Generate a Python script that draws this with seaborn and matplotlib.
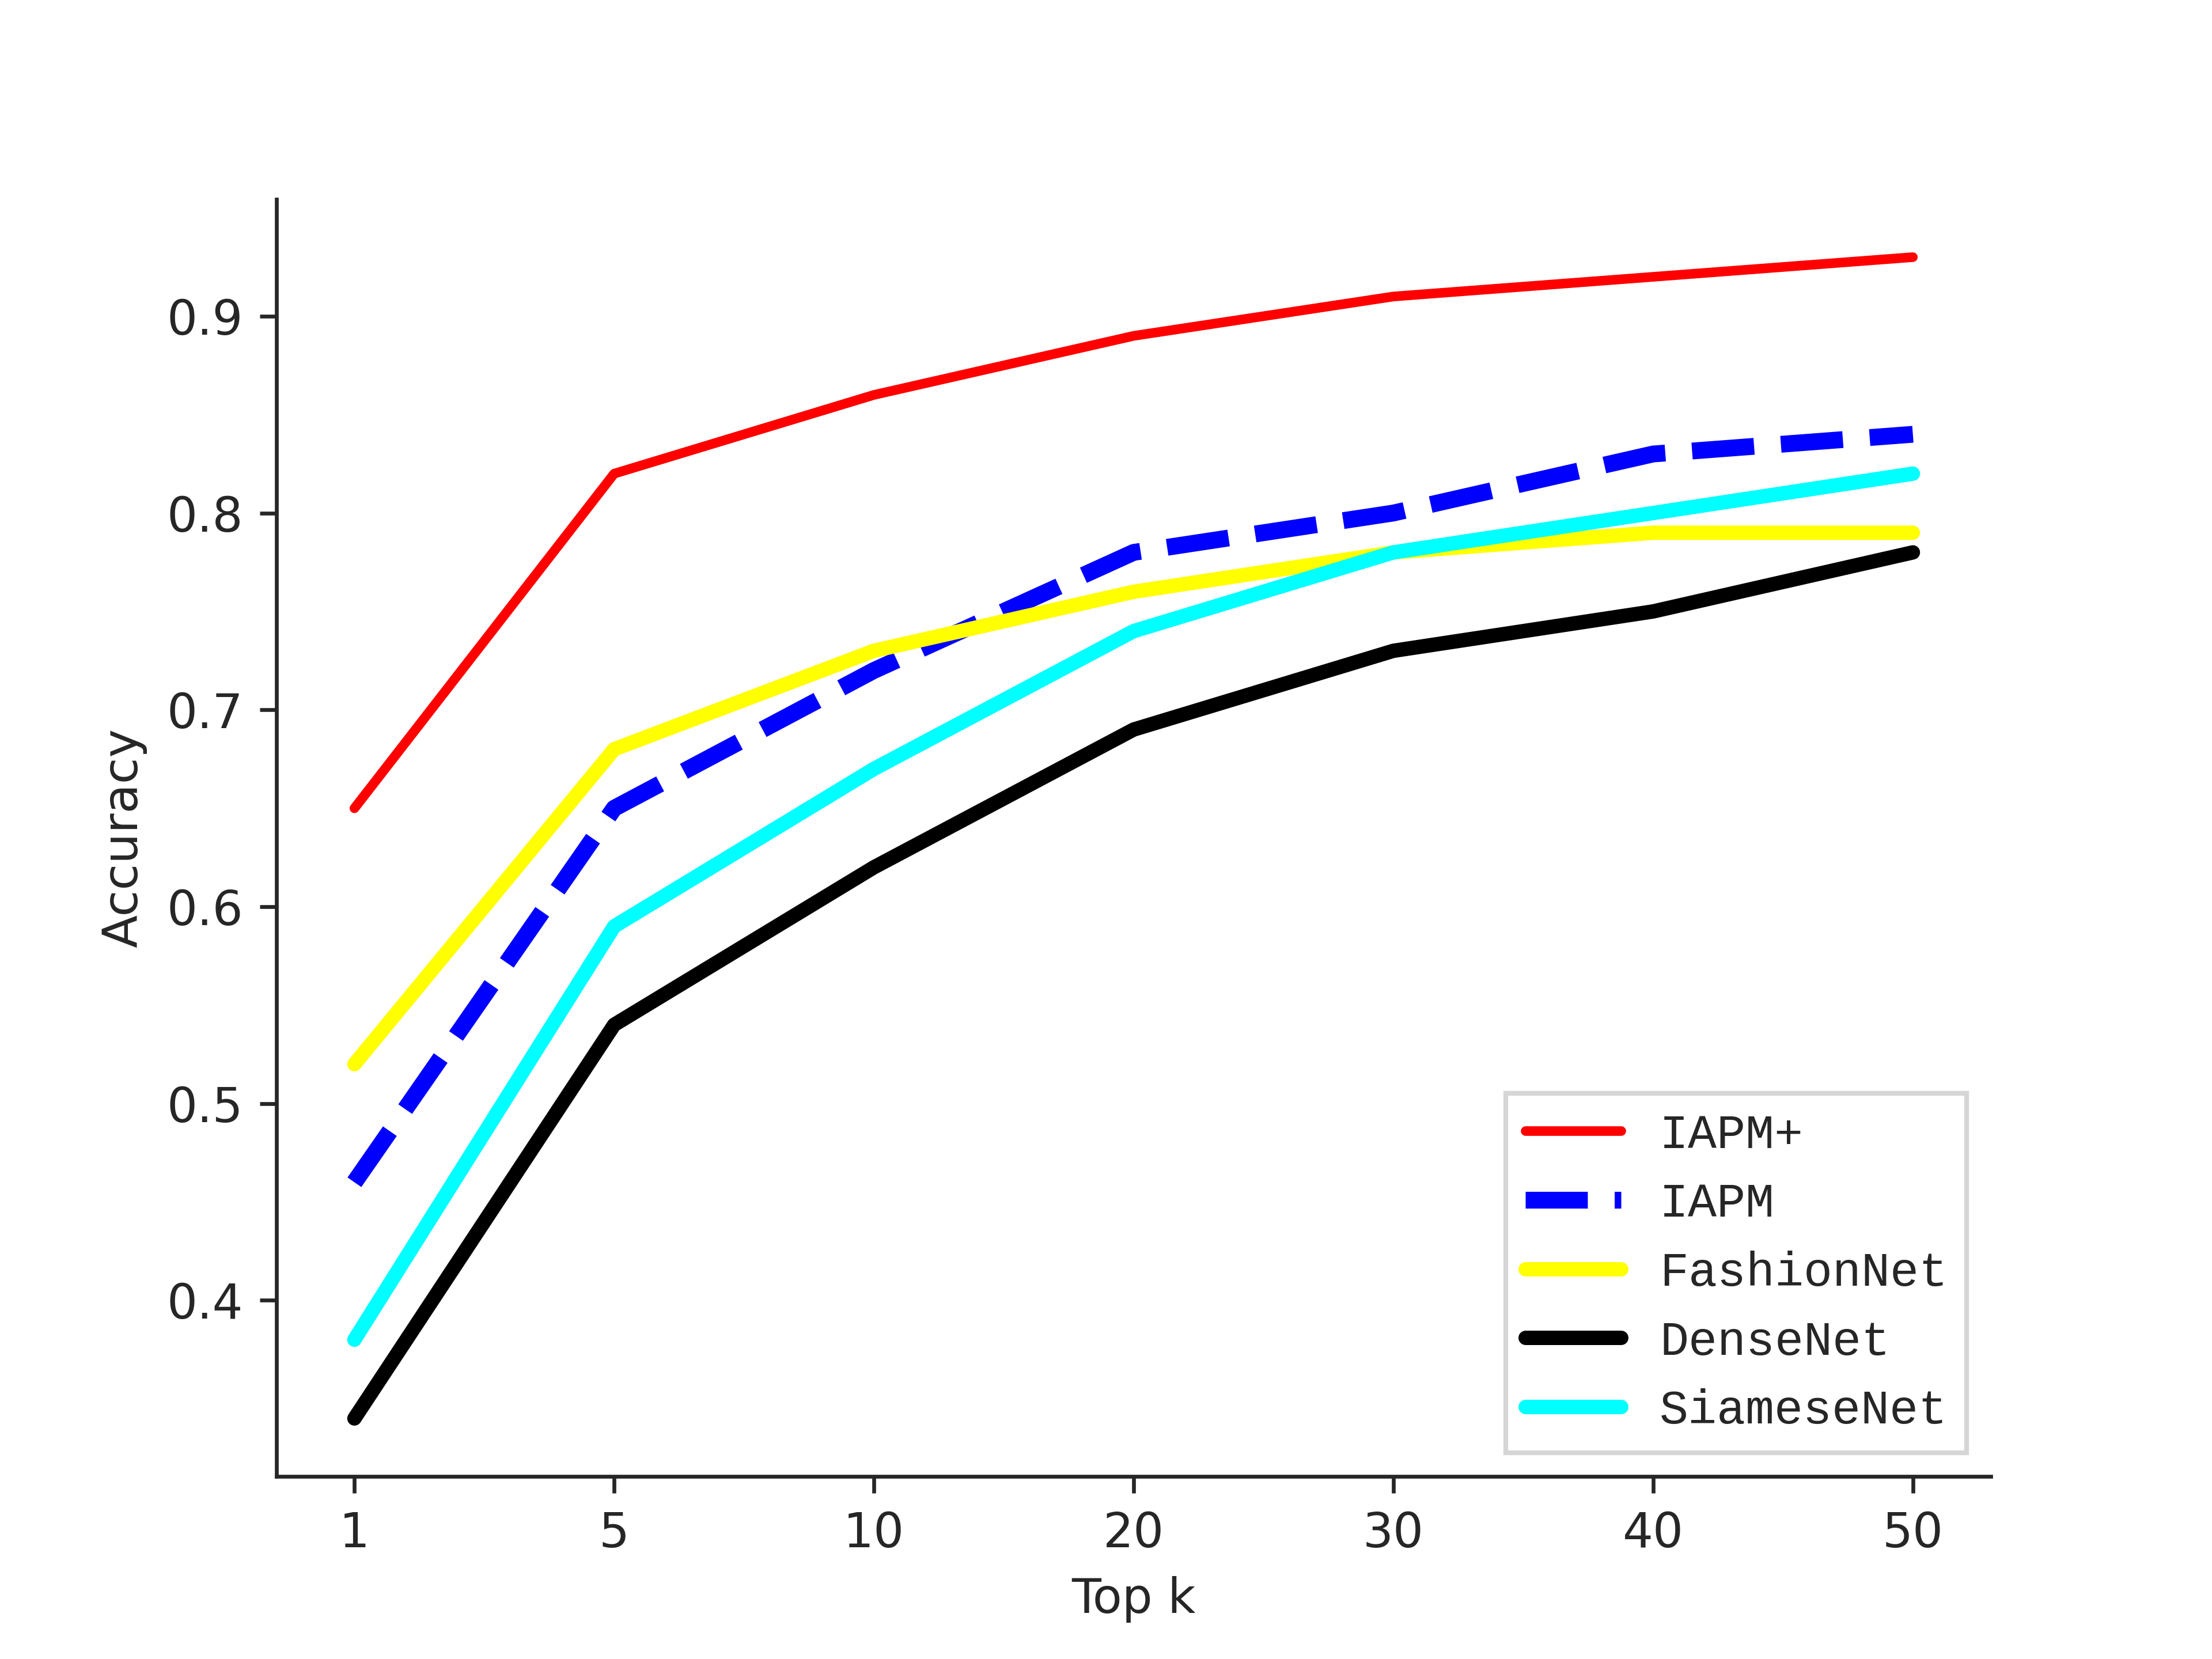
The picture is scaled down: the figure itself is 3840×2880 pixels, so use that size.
import matplotlib
matplotlib.use("Agg")
import matplotlib.pyplot as plt
import seaborn as sns
import pandas as pd

# datos
k_labels = ["1", "5", "10", "20", "30", "40", "50"]
iapm_plus = [0.65, 0.82, 0.86, 0.89, 0.91, 0.92, 0.93]
iapm = [0.46, 0.65, 0.72, 0.78, 0.80, 0.83, 0.84]
fashionnet = [0.52, 0.68, 0.73, 0.76, 0.78, 0.79, 0.79]
densenet = [0.34, 0.54, 0.62, 0.69, 0.73, 0.75, 0.78]
siamesenet = [0.38, 0.59, 0.67, 0.74, 0.78, 0.80, 0.82]

sns.set_style("ticks")
plt.rcParams['font.family'] = ['DejaVu Sans']

series = [
    ("IAPM+", iapm_plus, "red", "-", 2),
    ("IAPM", iapm, "blue", "--", 3.5),
    ("FashionNet", fashionnet, "yellow", "-", 3),
    ("DenseNet", densenet, "black", "-", 3),
    ("SiameseNet", siamesenet, "cyan", "-", 3),
]

fig, ax = plt.subplots(figsize=(6.4, 4.8), dpi=600)
x = list(range(len(k_labels)))
for name, vals, col, ls, lw in series:
    df = pd.DataFrame({"x": x, "y": vals})
    sns.lineplot(data=df, x="x", y="y", color=col, linestyle=ls, linewidth=lw, label=name, ax=ax)

ax.set_xticks(x)
ax.set_xticklabels(k_labels)
ax.set_xlabel("Top k")
ax.set_ylabel("Accuracy")
sns.despine(ax=ax)
leg = ax.legend(loc="lower right", prop={"family": "Liberation Mono", "size": 10}, fancybox=False)
fig.savefig("out.png")
